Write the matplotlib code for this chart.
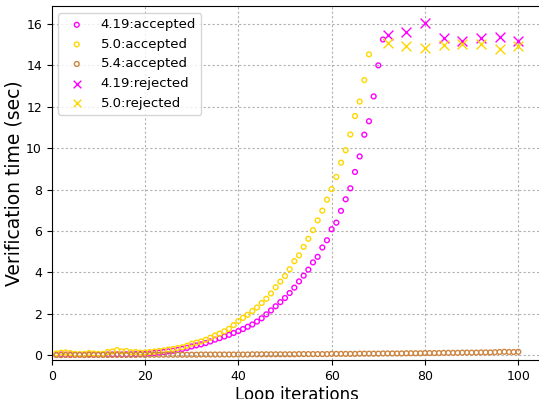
import numpy as np
import matplotlib
matplotlib.use("Agg")
import matplotlib.pyplot as plt

# loop iterations
iters_419_acc = list(range(1, 72))
iters_50_acc = list(range(1, 69))
iters_54_acc = list(range(1, 101))
iters_rej = [72, 76, 80, 84, 88, 92, 96, 100]

# verification times (sec)
t_419_acc = [0.02, 0.03, 0.02, 0.03, 0.02, 0.02, 0.03, 0.03, 0.02, 0.02,
             0.03, 0.03, 0.03, 0.04, 0.03, 0.04, 0.04, 0.05, 0.05, 0.06,
             0.08, 0.10, 0.12, 0.15, 0.18, 0.21, 0.25, 0.30, 0.35, 0.42,
             0.47, 0.52, 0.58, 0.66, 0.75, 0.82, 0.90, 0.98, 1.07, 1.16,
             1.26, 1.37, 1.48, 1.62, 1.78, 1.97, 2.16, 2.36, 2.56, 2.76,
             3.00, 3.26, 3.56, 3.84, 4.13, 4.48, 4.75, 5.20, 5.55, 6.08,
             6.40, 6.97, 7.53, 8.06, 8.85, 9.60, 10.65, 11.30, 12.50, 14.00,
             15.25]
t_50_acc = [0.08, 0.12, 0.13, 0.10, 0.06, 0.05, 0.06, 0.10, 0.08, 0.06,
            0.06, 0.15, 0.18, 0.24, 0.18, 0.20, 0.14, 0.15, 0.12, 0.13,
            0.15, 0.17, 0.20, 0.23, 0.27, 0.30, 0.34, 0.38, 0.45, 0.55,
            0.60, 0.66, 0.74, 0.84, 0.95, 1.04, 1.15, 1.27, 1.45, 1.65,
            1.80, 1.95, 2.13, 2.30, 2.52, 2.72, 2.98, 3.28, 3.55, 3.82,
            4.15, 4.54, 4.82, 5.23, 5.62, 6.04, 6.51, 6.98, 7.51, 8.02,
            8.61, 9.30, 9.90, 10.66, 11.55, 12.25, 13.29, 14.53]
t_54_acc = [0.00, 0.00, 0.01, 0.00, 0.01, 0.01, 0.00, 0.01, 0.01, 0.01,
            0.01, 0.01, 0.01, 0.01, 0.01, 0.01, 0.01, 0.01, 0.02, 0.01,
            0.02, 0.02, 0.02, 0.02, 0.02, 0.02, 0.02, 0.02, 0.02, 0.02,
            0.02, 0.03, 0.03, 0.03, 0.03, 0.03, 0.03, 0.03, 0.03, 0.03,
            0.03, 0.03, 0.04, 0.04, 0.04, 0.04, 0.04, 0.04, 0.04, 0.04,
            0.04, 0.04, 0.05, 0.05, 0.05, 0.05, 0.05, 0.05, 0.05, 0.06,
            0.06, 0.06, 0.06, 0.06, 0.06, 0.07, 0.07, 0.07, 0.07, 0.07,
            0.08, 0.08, 0.08, 0.08, 0.08, 0.09, 0.09, 0.09, 0.09, 0.10,
            0.10, 0.10, 0.10, 0.11, 0.11, 0.11, 0.11, 0.12, 0.12, 0.12,
            0.12, 0.13, 0.13, 0.13, 0.14, 0.15, 0.16, 0.15, 0.15, 0.16]
t_419_rej = [15.46, 15.63, 16.05, 15.33, 15.17, 15.30, 15.35, 15.20]
t_50_rej = [15.09, 14.93, 14.82, 14.98, 15.01, 15.01, 14.78, 14.93]

c419 = '#ff00ff'
c50 = '#ffd700'
c54 = '#cd853f'

fig = plt.figure(figsize=(5.39, 3.99), dpi=100)
ax = fig.add_axes([0.0959, 0.097, 0.909, 0.887])

ax.scatter(iters_419_acc, t_419_acc, s=12, facecolors='none', edgecolors=c419,
           linewidths=1.0, label='4.19:accepted', zorder=3)
ax.scatter(iters_50_acc, t_50_acc, s=12, facecolors='none', edgecolors=c50,
           linewidths=1.0, label='5.0:accepted', zorder=3)
ax.scatter(iters_54_acc, t_54_acc, s=12, facecolors='none', edgecolors=c54,
           linewidths=1.0, label='5.4:accepted', zorder=3)
ax.scatter(iters_rej, t_419_rej, s=50, marker='x', color=c419,
           linewidths=1.0, label='4.19:rejected', zorder=3)
ax.scatter(iters_rej, t_50_rej, s=50, marker='x', color=c50,
           linewidths=1.0, label='5.0:rejected', zorder=3)

ax.set_xlim(0, 105)
ax.set_ylim(-0.25, 16.85)
ax.set_xticks([0, 20, 40, 60, 80, 100])
ax.set_yticks(np.arange(0, 17, 2))
ax.tick_params(labelsize=9)
ax.grid(True, linestyle=(0, (2, 2)), color='#b0b0b0', linewidth=0.8)
ax.set_axisbelow(True)

ax.set_xlabel('Loop iterations', fontsize=12, labelpad=2)
ax.set_ylabel('Verification time (sec)', fontsize=13.5, labelpad=2)
leg = ax.legend(loc='upper left', fontsize=9.5)
for h in leg.legend_handles[3:]:
    h.set_sizes([30])

fig.savefig('out.png', dpi=100)
